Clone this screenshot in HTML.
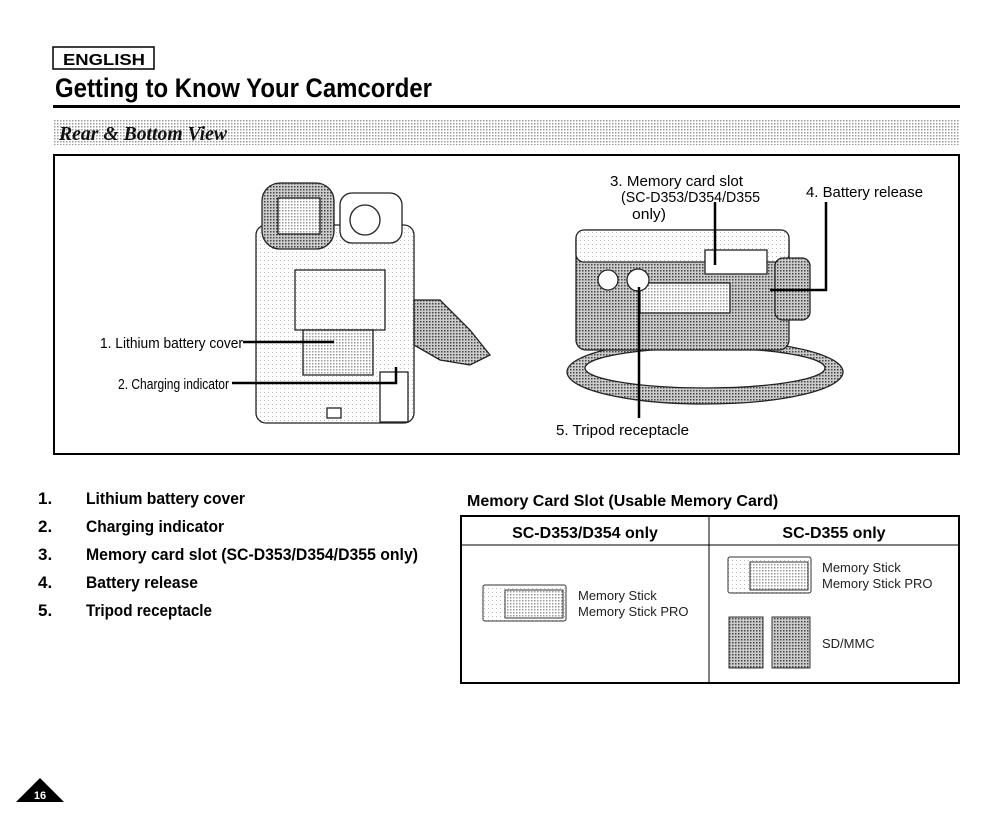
<!DOCTYPE html>
<html><head><meta charset="utf-8"><style>
html,body{margin:0;padding:0;background:#fff;}
svg{display:block;}
</style></head><body>
<svg width="1008" height="822" viewBox="0 0 1008 822" xmlns="http://www.w3.org/2000/svg" font-family="Liberation Sans, sans-serif">
<defs>
<pattern id="dots" width="3" height="3" patternUnits="userSpaceOnUse"><rect width="3" height="3" fill="#fff"/><rect width="1.5" height="1.5" fill="#999"/></pattern>
<pattern id="dk" width="3" height="3" patternUnits="userSpaceOnUse"><rect width="3" height="3" fill="#ccc"/><rect width="1.5" height="1.5" fill="#444"/></pattern>
<pattern id="lt" width="4" height="4" patternUnits="userSpaceOnUse"><rect width="4" height="4" fill="#fff"/><rect width="1" height="1" fill="#bbb"/></pattern>
</defs>
<!-- header -->
<rect x="53" y="47" width="101" height="22" fill="#fff" stroke="#000" stroke-width="1.5"/>
<text x="63" y="65" font-size="16" font-weight="bold" textLength="82" lengthAdjust="spacingAndGlyphs">ENGLISH</text>
<text x="55" y="97" font-size="27" font-weight="bold" textLength="377" lengthAdjust="spacingAndGlyphs">Getting to Know Your Camcorder</text>
<rect x="53" y="105" width="907" height="3" fill="#000"/>
<rect x="53" y="119" width="907" height="26" fill="url(#dots)"/>
<text x="59" y="140" font-size="20" font-style="italic" font-weight="bold" font-family="Liberation Serif, serif" fill="#111" textLength="168" lengthAdjust="spacingAndGlyphs">Rear &amp; Bottom View</text>
<rect x="54" y="155" width="905" height="299" fill="none" stroke="#000" stroke-width="2"/>
<!-- left camera -->
<g stroke="#222" stroke-width="1.3">
<rect x="256" y="225" width="158" height="198" rx="10" fill="url(#lt)"/>
<rect x="262" y="183" width="72" height="66" rx="18" fill="url(#dk)"/>
<rect x="278" y="198" width="42" height="36" fill="url(#dots)"/>
<rect x="340" y="193" width="62" height="50" rx="12" fill="#fff"/>
<circle cx="365" cy="220" r="15" fill="#fff"/>
<rect x="295" y="270" width="90" height="60" fill="url(#lt)"/>
<rect x="303" y="330" width="70" height="45" fill="url(#dots)"/>
<rect x="380" y="372" width="28" height="50" fill="#fff"/>
<path d="M414 300 L440 300 L470 330 L490 355 L470 365 L440 360 L414 345 Z" fill="url(#dk)"/>
<rect x="327" y="408" width="14" height="10" fill="#fff"/>
</g>
<!-- right camera -->
<g stroke="#222" stroke-width="1.3">
<ellipse cx="705" cy="372" rx="138" ry="32" fill="url(#dk)"/>
<ellipse cx="705" cy="368" rx="120" ry="20" fill="#fff"/>
<rect x="576" y="230" width="213" height="120" rx="10" fill="url(#dk)"/>
<rect x="576" y="230" width="213" height="32" rx="8" fill="url(#lt)"/>
<rect x="705" y="250" width="62" height="24" fill="#fff"/>
<rect x="640" y="283" width="90" height="30" fill="url(#dots)"/>
<circle cx="608" cy="280" r="10" fill="#fff"/>
<circle cx="638" cy="280" r="11" fill="#fff"/>
<rect x="775" y="258" width="35" height="62" rx="8" fill="url(#dk)"/>
</g>
<!-- leaders -->
<g stroke="#000" stroke-width="2.5" fill="none">
<line x1="243" y1="342" x2="334" y2="342"/>
<polyline points="232,383 396,383 396,367"/>
<line x1="715" y1="202" x2="715" y2="265"/>
<polyline points="826,202 826,290 770,290"/>
<line x1="639" y1="287" x2="639" y2="418"/>
</g>
<g font-size="15" fill="#000" lengthAdjust="spacingAndGlyphs">
<text x="100" y="348" textLength="143" lengthAdjust="spacingAndGlyphs">1. Lithium battery cover</text>
<text x="118" y="389" textLength="111" lengthAdjust="spacingAndGlyphs">2. Charging indicator</text>
<text x="610" y="186" textLength="133" lengthAdjust="spacingAndGlyphs">3. Memory card slot</text>
<text x="621" y="202" textLength="139" lengthAdjust="spacingAndGlyphs">(SC-D353/D354/D355</text>
<text x="632" y="219" textLength="34" lengthAdjust="spacingAndGlyphs">only)</text>
<text x="806" y="197" textLength="117" lengthAdjust="spacingAndGlyphs">4. Battery release</text>
<text x="556" y="435" textLength="133" lengthAdjust="spacingAndGlyphs">5. Tripod receptacle</text>
</g>
<!-- list -->
<g font-size="17" font-weight="bold" fill="#000">
<text x="38" y="504">1.</text><text x="86" y="504" textLength="159" lengthAdjust="spacingAndGlyphs">Lithium battery cover</text>
<text x="38" y="532">2.</text><text x="86" y="532" textLength="138" lengthAdjust="spacingAndGlyphs">Charging indicator</text>
<text x="38" y="560">3.</text><text x="86" y="560" textLength="332" lengthAdjust="spacingAndGlyphs">Memory card slot (SC-D353/D354/D355 only)</text>
<text x="38" y="588">4.</text><text x="86" y="588" textLength="112" lengthAdjust="spacingAndGlyphs">Battery release</text>
<text x="38" y="616">5.</text><text x="86" y="616" textLength="126" lengthAdjust="spacingAndGlyphs">Tripod receptacle</text>
</g>
<text x="467" y="506" font-size="16" font-weight="bold">Memory Card Slot (Usable Memory Card)</text>
<rect x="461" y="516" width="498" height="167" fill="none" stroke="#000" stroke-width="2"/>
<line x1="461" y1="545" x2="959" y2="545" stroke="#000" stroke-width="1"/>
<line x1="709" y1="516" x2="709" y2="683" stroke="#000" stroke-width="1"/>
<text x="585" y="538" font-size="16" font-weight="bold" text-anchor="middle">SC-D353/D354 only</text>
<text x="834" y="538" font-size="16" font-weight="bold" text-anchor="middle">SC-D355 only</text>
<g stroke="#333" stroke-width="1">
<rect x="483" y="585" width="83" height="36" rx="2" fill="url(#lt)"/>
<rect x="505" y="590" width="58" height="28" fill="url(#dots)"/>
<rect x="728" y="557" width="83" height="36" rx="2" fill="url(#lt)"/>
<rect x="750" y="562" width="58" height="28" fill="url(#dots)"/>
<rect x="729" y="617" width="34" height="51" fill="url(#dk)"/>
<rect x="772" y="617" width="38" height="51" fill="url(#dk)"/>
</g>
<g font-size="13" fill="#222">
<text x="578" y="600">Memory Stick</text>
<text x="578" y="616">Memory Stick PRO</text>
<text x="822" y="572">Memory Stick</text>
<text x="822" y="588">Memory Stick PRO</text>
<text x="822" y="648">SD/MMC</text>
</g>
<!-- page marker -->
<polygon points="40,778 16,802 64,802" fill="#000"/>
<text x="40" y="799" font-size="11" font-weight="bold" fill="#fff" text-anchor="middle">16</text>
</svg>
</body></html>
